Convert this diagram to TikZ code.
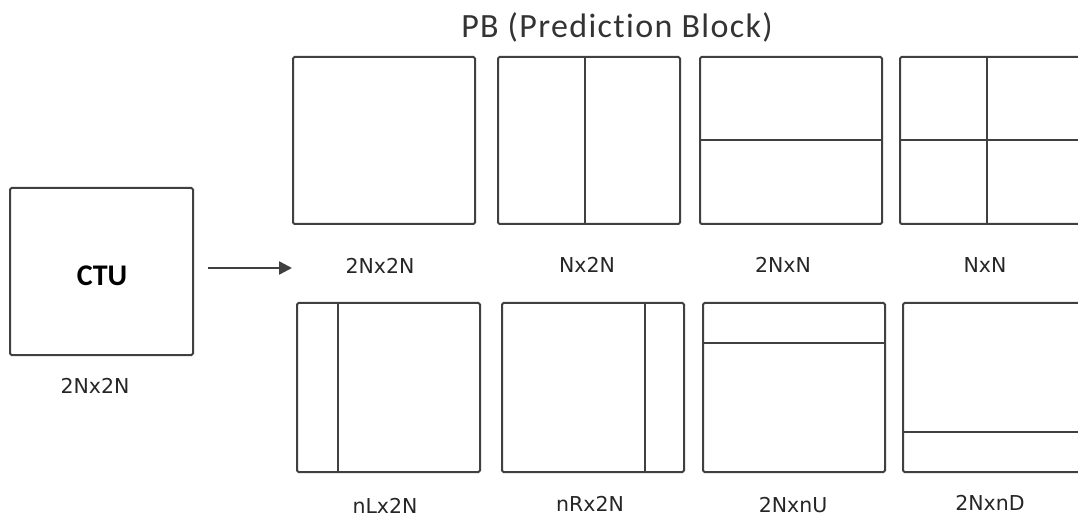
\documentclass[tikz,border=0pt]{standalone}
\usepackage{fontspec}
\setmainfont{DejaVu Sans}
\newfontfamily\calib[Ligatures=NoCommon]{Carlito}
\newfontfamily\calibsp[Ligatures=NoCommon,LetterSpace=4]{Carlito}
\usetikzlibrary{arrows.meta}
\definecolor{edge}{HTML}{404040}
\tikzset{
  pb/.style={draw=edge, line width=2pt, rounded corners=1.5pt, minimum width=182pt, minimum height=167pt, anchor=north west, inner sep=0pt, outer sep=0pt},
  split/.style={draw=edge, line width=2pt},
  lbl/.style={font=\fontsize{20.5}{24}\selectfont, text=black!85, inner sep=0pt},
}
\begin{document}
\begin{tikzpicture}[x=1pt,y=-1pt]
\useasboundingbox (0,0) rectangle (1078,518);
\clip (0,0) rectangle (1078,518);
% title
\node[font=\calibsp\fontsize{34}{38}\selectfont, text=black!80, inner sep=0pt] (title) at (617,27) {PB (Prediction Block)};
% CTU
\node[pb, minimum width=183pt] (ctu) at (10,188) {};
\node[font=\calib\bfseries\fontsize{30}{34}\selectfont, inner sep=0pt] (ctut) at (102,276) {CTU};
\node[lbl] (ctul) at (95,386) {2Nx2N};
% arrow
\coordinate (a1) at (208,268);
\coordinate (a2) at (292,268);
\draw[edge, line width=2.4pt, -{Triangle[length=13pt,width=13pt]}] (a1) -- (a2);
% top row
\node[pb] (b1) at (293,57) {};
\node[pb] (b2) at (498,57) {};
\node[pb] (b3) at (700,57) {};
\node[pb, minimum width=190pt] (b4) at (900,57) {};
\draw[split] (585,57 |- b2.north) -- (585,57 |- b2.south);
\draw[split] (b3.west |- 0,140) -- (b3.east |- 0,140);
\draw[split] (987,0 |- b4.north) -- (987,0 |- b4.south);
\draw[split] (b4.west |- 0,140) -- (b4.east |- 0,140);
\node[lbl] (l1) at (380,266) {2Nx2N};
\node[lbl] (l2) at (587,265) {Nx2N};
\node[lbl] (l3) at (783,265) {2NxN};
\node[lbl] (l4) at (985,265) {NxN};
% bottom row
\node[pb, minimum width=183pt, minimum height=169pt] (b5) at (297,303) {};
\node[pb, minimum height=169pt] (b6) at (502,303) {};
\node[pb, minimum height=169pt] (b7) at (703,303) {};
\node[pb, minimum width=190pt, minimum height=169pt] (b8) at (903,303) {};
\draw[split] (338,0 |- b5.north) -- (338,0 |- b5.south);
\draw[split] (645,0 |- b6.north) -- (645,0 |- b6.south);
\draw[split] (b7.west |- 0,343) -- (b7.east |- 0,343);
\draw[split] (b8.west |- 0,432) -- (b8.east |- 0,432);
\node[lbl] (l5) at (385,506) {nLx2N};
\node[lbl] (l6) at (590,504) {nRx2N};
\node[lbl] (l7) at (793,505) {2NxnU};
\node[lbl] (l8) at (990,503) {2NxnD};
\end{tikzpicture}
\end{document}
